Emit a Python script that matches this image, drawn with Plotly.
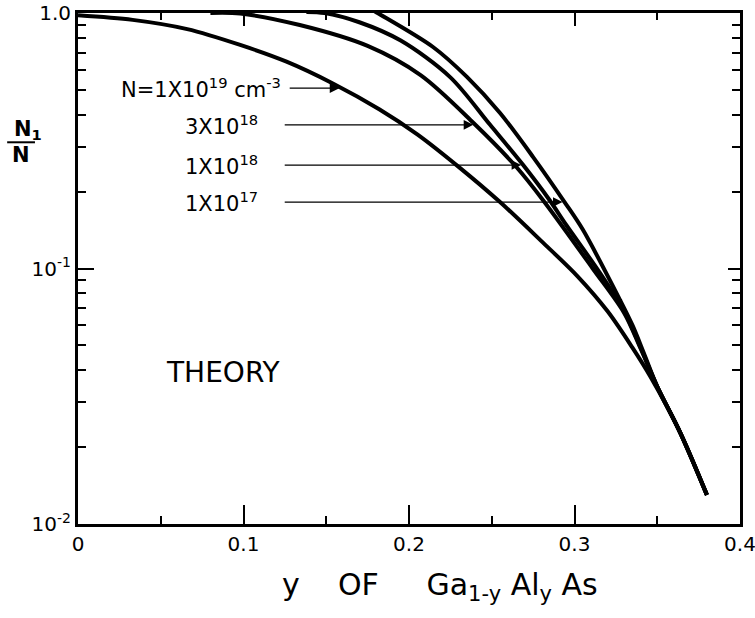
import numpy as np
import plotly.graph_objects as go

# Fraction N1/N versus AlAs mole fraction y for four doping levels
doping_labels = [
    "N=1X10<sup>19</sup> cm<sup>-3</sup>",
    "3X10<sup>18</sup>",
    "1X10<sup>18</sup>",
    "1X10<sup>17</sup>",
]

y_1e19 = [0.0, 0.033, 0.066, 0.098, 0.126, 0.154, 0.182, 0.205, 0.230, 0.255,
          0.280, 0.302, 0.320, 0.335, 0.346, 0.364, 0.380]
ratio_1e19 = [0.98, 0.94, 0.865, 0.75, 0.645, 0.53, 0.42, 0.335, 0.25, 0.182,
              0.128, 0.093, 0.068, 0.049, 0.0376, 0.0227, 0.0130]

y_3e18 = [0.080, 0.098, 0.134, 0.175, 0.207, 0.239, 0.265, 0.281, 0.311,
          0.330, 0.340, 0.350, 0.364, 0.380]
ratio_3e18 = [1.0, 0.995, 0.897, 0.743, 0.571, 0.371, 0.249, 0.185, 0.100,
              0.067, 0.0485, 0.0345, 0.0227, 0.0130]

y_1e18 = [0.138, 0.149, 0.170, 0.195, 0.225, 0.249, 0.269, 0.285, 0.295, 0.314,
          0.330, 0.340, 0.350, 0.364, 0.380]
ratio_1e18 = [1.01, 1.0, 0.92, 0.78, 0.56, 0.365, 0.254, 0.185, 0.148, 0.099,
              0.068, 0.049, 0.0345, 0.0227, 0.0130]

y_1e17 = [0.176, 0.181, 0.2145, 0.235, 0.255, 0.275, 0.294, 0.305, 0.3275,
          0.335, 0.342, 0.350, 0.364, 0.380]
ratio_1e17 = [1.045, 1.0, 0.736, 0.562, 0.406, 0.273, 0.182, 0.142, 0.0753,
              0.060, 0.0465, 0.0345, 0.0227, 0.0130]

curves = [(y_1e19, ratio_1e19), (y_3e18, ratio_3e18),
          (y_1e18, ratio_1e18), (y_1e17, ratio_1e17)]

# heights at which each label's pointer meets its curve
label_levels = [0.508, 0.365, 0.254, 0.182]

x_ticks = [0.0, 0.1, 0.2, 0.3, 0.4]
x_tick_text = ["0", "0.1", "0.2", "0.3", "0.4"]
y_ticks = [0.01, 0.1, 1.0]
y_tick_text = ["10<sup>-2</sup>", "10<sup>-1</sup>", "1.0"]
x_minor = [0.05, 0.15, 0.25, 0.35]
y_minor = [m * d for d in (0.01, 0.1) for m in range(2, 10)]

FONT = "DejaVu Sans"

fig = go.Figure()
for xs, vs in curves:
    fig.add_trace(go.Scatter(
        x=xs, y=vs, mode="lines",
        line=dict(color="black", width=4, shape="spline", smoothing=0.9),
        showlegend=False, hoverinfo="skip",
    ))

# companion trace so the top and right frame axes are drawn
fig.add_trace(go.Scatter(x=[], y=[], xaxis="x2", yaxis="y2",
                         showlegend=False, hoverinfo="skip"))

label_right = [0.124, 0.110, 0.110, 0.110]
tail_x = [0.127, 0.124, 0.124, 0.124]
for (xs, vs), lvl, txt, lx, tx in zip(curves, label_levels, doping_labels,
                                      label_right, tail_x):
    lv_rev = np.log10(np.array(vs))[::-1]
    tip_x = float(np.interp(np.log10(lvl), lv_rev, np.array(xs)[::-1]))
    fig.add_annotation(
        x=tip_x, y=np.log10(lvl), xref="x", yref="y",
        ax=tx, ay=np.log10(lvl), axref="x", ayref="y",
        text="", showarrow=True, arrowhead=2, arrowsize=1.6, arrowwidth=1.2,
        arrowcolor="black", standoff=2,
    )
    fig.add_annotation(
        x=lx, y=np.log10(lvl), xref="x", yref="y", text=txt, showarrow=False,
        xanchor="right", yanchor="middle",
        font=dict(family=FONT, size=21, color="black"),
    )

fig.add_annotation(
    x=0.2205, y=0.2955, xref="paper", yref="paper", text="THEORY",
    xanchor="center", yanchor="middle",
    showarrow=False, font=dict(family=FONT, size=28, color="black"),
)

fig.add_annotation(
    x=0.547, y=-0.123, xref="paper", yref="paper",
    xanchor="center", yanchor="middle",
    text="y&nbsp;&nbsp;&nbsp;&nbsp;OF&nbsp;&nbsp;&nbsp;&nbsp;&nbsp;Ga<sub>1-y</sub> Al<sub>y</sub> As",
    showarrow=False, font=dict(family=FONT, size=30, color="black"),
)

# N1 / N stacked as a fraction
fig.add_annotation(
    x=-0.076, y=0.772, xref="paper", yref="paper", text="<b>N<sub>1</sub></b>",
    xanchor="center", yanchor="middle",
    showarrow=False, font=dict(family=FONT, size=21, color="black"),
)
fig.add_annotation(
    x=-0.086, y=0.722, xref="paper", yref="paper", text="<b>N</b>",
    xanchor="center", yanchor="middle",
    showarrow=False, font=dict(family=FONT, size=21, color="black"),
)
fig.add_shape(type="line", xref="paper", yref="paper",
              x0=-0.107, x1=-0.065, y0=0.747, y1=0.747,
              line=dict(color="black", width=2))

tick_font = dict(family=FONT, size=20, color="black")

fig.update_layout(
    width=755, height=618,
    margin=dict(l=78, r=15, t=13, b=94, autoexpand=False),
    paper_bgcolor="white", plot_bgcolor="white",
    xaxis=dict(
        range=[0, 0.4], tickvals=x_ticks, ticktext=x_tick_text,
        ticks="inside", ticklen=19, tickwidth=2, tickcolor="black",
        showline=True, linewidth=3, linecolor="black", showgrid=False,
        zeroline=False, tickfont=tick_font, ticklabelstandoff=0,
        ticklabeloverflow="allow", automargin=False,
        minor=dict(tickvals=x_minor, ticks="inside", ticklen=8,
                   tickwidth=2, tickcolor="black", showgrid=False),
    ),
    yaxis=dict(
        type="log", range=[-2, 0], tickvals=y_ticks, ticktext=y_tick_text,
        ticks="inside", ticklen=16, tickwidth=2, tickcolor="black",
        showline=True, linewidth=3, linecolor="black", showgrid=False,
        zeroline=False, tickfont=tick_font, ticklabeloverflow="allow",
        automargin=False,
        minor=dict(tickvals=y_minor, ticks="inside", ticklen=8,
                   tickwidth=2, tickcolor="black", showgrid=False),
    ),
    xaxis2=dict(
        overlaying="x", side="top", anchor="y2", range=[0, 0.4],
        tickvals=[0.1, 0.2, 0.3], ticks="inside", ticklen=13, tickwidth=2,
        tickcolor="black", showticklabels=False, showline=True, linewidth=3,
        linecolor="black", showgrid=False, zeroline=False,
        minor=dict(tickvals=x_minor, ticks="inside", ticklen=7,
                   tickwidth=2, tickcolor="black", showgrid=False),
    ),
    yaxis2=dict(
        overlaying="y", side="right", anchor="x2", type="log", range=[-2, 0],
        tickvals=[0.1], ticks="inside", ticklen=12, tickwidth=2,
        tickcolor="black", showticklabels=False, showline=True, linewidth=3,
        linecolor="black", showgrid=False, zeroline=False,
        minor=dict(tickvals=y_minor, ticks="inside", ticklen=8,
                   tickwidth=2, tickcolor="black", showgrid=False),
    ),
)

fig.write_html("out.html")
